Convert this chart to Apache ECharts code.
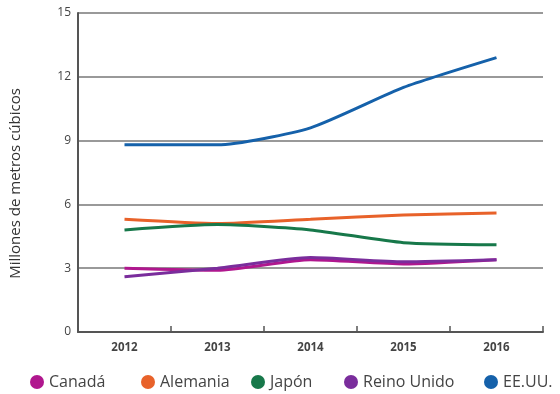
<!DOCTYPE html>
<html><head><meta charset="utf-8">
<script src="https://cdn.jsdelivr.net/npm/echarts@6/dist/echarts.min.js"></script>
<style>html,body{margin:0;padding:0;background:#fff}#c{width:560px;height:394px}</style>
</head><body><div id="c"></div>
<script>
const categories = ['2012','2013','2014','2015','2016'];
const canada = [3.0, 2.9, 3.4, 3.2, 3.4];
const alemania = [5.3, 5.1, 5.3, 5.5, 5.6];
const japon = [4.8, 5.05, 4.8, 4.2, 4.1];
const reinoUnido = [2.6, 3.0, 3.5, 3.3, 3.4];
const eeuu = [8.8, 8.8, 9.6, 11.5, 12.9];
const yTicks = [0, 3, 6, 9, 12, 15];
const seriesNames = ['Canadá','Alemania','Japón','Reino Unido','EE.UU.'];
const colors = ['#b0178e','#e8622a','#17784a','#7a2d9c','#1561aa'];
const legendLeft = [25, 136, 246, 339, 479];

const dataSets = [canada, alemania, japon, reinoUnido, eeuu];
const chart = echarts.init(document.getElementById('c'));
const font = '"Open Sans", sans-serif';
chart.setOption({
  animation: false,
  color: colors,
  textStyle: {fontFamily: font},
  grid: {left: 78, right: 17, top: 13, bottom: 62},
  legend: seriesNames.map((n, i) => ({
    data: [n], top: 369, left: legendLeft[i], icon: 'circle', itemWidth: 14, itemHeight: 14, itemGap: 6,
    textStyle: {fontSize: 16, color: '#444', fontFamily: font}
  })),
  xAxis: {
    type: 'category', data: categories, boundaryGap: true,
    axisLine: {lineStyle: {color: '#555', width: 2}},
    axisTick: {show: true, inside: true, length: 6, lineStyle: {color: '#555', width: 1.5}},
    axisLabel: {fontSize: 11.5, color: '#444', margin: 10, fontWeight: 'bold'}
  },
  yAxis: {
    type: 'value', min: 0, max: 15, interval: 3,
    name: 'Millones de metros cúbicos', nameLocation: 'middle', nameGap: 55,
    nameTextStyle: {fontSize: 15, color: '#333', padding: [0, 22, 0, 0]},
    axisLine: {show: true, lineStyle: {color: '#555', width: 2}},
    axisTick: {show: false},
    axisLabel: {fontSize: 12, color: '#444', margin: 7,
      formatter: v => yTicks.includes(v) ? String(v) : ''},
    splitLine: {lineStyle: {color: '#777', width: 1.5}}
  },
  series: seriesNames.map((n, i) => ({
    name: n, type: 'line', data: dataSets[i], symbol: 'none', smooth: 0.2,
    lineStyle: {width: 3, color: colors[i]}, itemStyle: {color: colors[i]}
  }))
});
</script></body></html>
